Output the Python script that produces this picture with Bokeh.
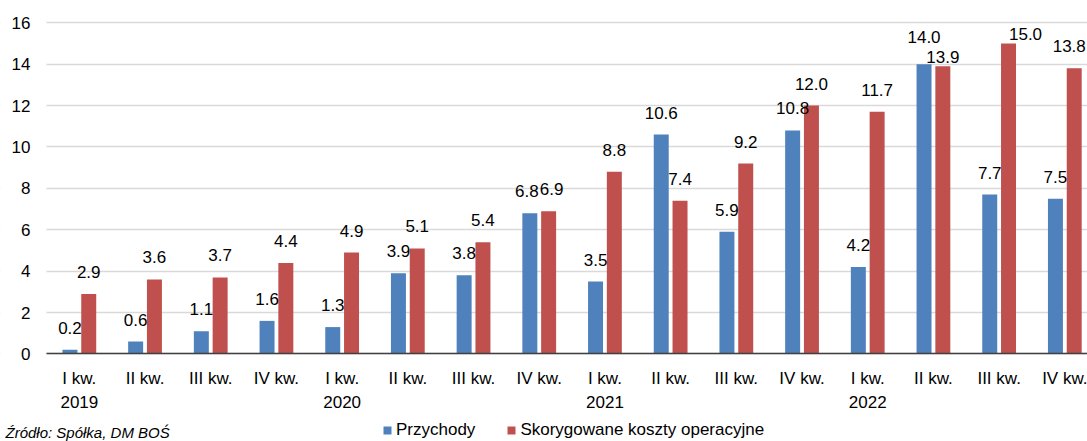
from bokeh.plotting import figure
from bokeh.models import (Range1d, FixedTicker, Legend, LegendItem, Label,
                          LabelSet, ColumnDataSource, LinearAxis, BoxAnnotation)
from bokeh.core.properties import value
from bokeh.embed import file_html
from bokeh.resources import INLINE

# ---- data ----
quarters = ["I kw.", "II kw.", "III kw.", "IV kw."]
years = ["2019", "2020", "2021", "2022"]
przychody = [0.2, 0.6, 1.1, 1.6, 1.3, 3.9, 3.8, 6.8, 3.5, 10.6, 5.9, 10.8, 4.2, 14.0, 7.7, 7.5]
koszty = [2.9, 3.6, 3.7, 4.4, 4.9, 5.1, 5.4, 6.9, 8.8, 7.4, 9.2, 12.0, 11.7, 13.9, 15.0, 13.8]
y_ticks = [0, 2, 4, 6, 8, 10, 12, 14, 16]
series_names = ["Przychody", "Skorygowane koszty operacyjne"]
source_text = "Źródło: Spółka, DM BOŚ"

# ---- styling ----
FONT = "Liberation Sans"
FS = "17px"
BLUE = "#4f81bd"
RED = "#c0504d"
BAR_W = 0.228
OFF = 0.143
LABEL_GAP = 16
# manual label nudges (pixels: dx right, dy up) to avoid collisions, as in the original
NUDGE_B = {7: (-3, 0), 13: (0, 5)}
NUDGE_R = {7: (3, 0), 13: (0, -13), 14: (17, -13), 15: (-5, 0)}

n = len(przychody)
centers = [i + 0.5 for i in range(n)]
tick_labels = {}
for i, c in enumerate(centers):
    q = quarters[i % 4]
    tick_labels[c] = q + "\n" + years[i // 4] if i % 4 == 0 else q


def make_source(vals, sign, nudge):
    return ColumnDataSource(dict(
        x=[c + sign * OFF for c in centers], top=vals,
        lbl=[f"{v:.1f}" for v in vals],
        dx=[nudge.get(i, (0, 0))[0] for i in range(n)],
        dy=[LABEL_GAP + nudge.get(i, (0, 0))[1] for i in range(n)]))


src_b = make_source(przychody, -1, NUDGE_B)
src_r = make_source(koszty, 1, NUDGE_R)

p = figure(width=1087, height=441, output_backend="svg", toolbar_location=None,
           x_range=Range1d(-0.700, 15.845), y_range=Range1d(-4.227, 17.077),
           x_axis_location=None, y_axis_location=None,
           min_border_left=0, min_border_right=0, min_border_top=0,
           min_border_bottom=0)
p.outline_line_color = None
p.background_fill_color = "white"

p.xgrid.grid_line_color = None
p.ygrid.ticker = FixedTicker(ticks=y_ticks)
p.ygrid.grid_line_color = "#d9d9d9"
p.ygrid.grid_line_width = 1.3
p.add_layout(BoxAnnotation(right=0, fill_color="white", fill_alpha=1.0,
                           line_color=None, level="underlay"))

rb = p.vbar(x="x", top="top", width=BAR_W, source=src_b, fill_color=BLUE, line_color=None)
rr = p.vbar(x="x", top="top", width=BAR_W, source=src_r, fill_color=RED, line_color=None)

for s in (src_b, src_r):
    p.add_layout(LabelSet(x="x", y="top", text="lbl", source=s, text_align="center",
                          text_baseline="alphabetic", x_offset="dx", y_offset="dy",
                          text_font=value(FONT), text_font_size=value(FS),
                          text_color="#000000"))

xaxis = LinearAxis(fixed_location=0, ticker=FixedTicker(ticks=centers),
                   major_label_overrides=tick_labels, bounds=(0, 16))
xaxis.major_tick_line_color = None
xaxis.minor_tick_line_color = None
xaxis.major_tick_out = 0
xaxis.major_tick_in = 0
xaxis.major_label_standoff = 15
xaxis.axis_line_color = "#404040"
xaxis.axis_line_width = 1.5
xaxis.major_label_text_font = FONT
xaxis.major_label_text_font_size = FS
xaxis.major_label_text_color = "#000000"
xaxis.major_label_text_line_height = 1.25
p.add_layout(xaxis, "below")

yaxis = LinearAxis(fixed_location=0, ticker=FixedTicker(ticks=y_ticks))
yaxis.axis_line_color = None
yaxis.major_tick_line_color = None
yaxis.minor_tick_line_color = None
yaxis.major_tick_out = 0
yaxis.major_tick_in = 0
yaxis.major_label_standoff = 16
yaxis.major_label_text_font = FONT
yaxis.major_label_text_font_size = FS
yaxis.major_label_text_color = "#000000"
p.add_layout(yaxis, "left")

legend = Legend(items=[LegendItem(label=series_names[0], renderers=[rb]),
                       LegendItem(label=series_names[1], renderers=[rr])],
                orientation="horizontal", location=(382, 1),
                glyph_width=10, glyph_height=10, label_standoff=4, spacing=31,
                padding=0, margin=0, border_line_color=None,
                background_fill_alpha=0, label_text_font=FONT,
                label_text_font_size=FS, label_text_color="#000000",
                label_height=20)
p.add_layout(legend)

p.add_layout(Label(x=5, y=9, x_units="screen", y_units="screen", text=source_text,
                   text_font=FONT, text_font_size="15px", text_font_style="italic",
                   text_baseline="middle", text_color="#000000"))

open("out.html", "w").write(file_html(p, INLINE))
